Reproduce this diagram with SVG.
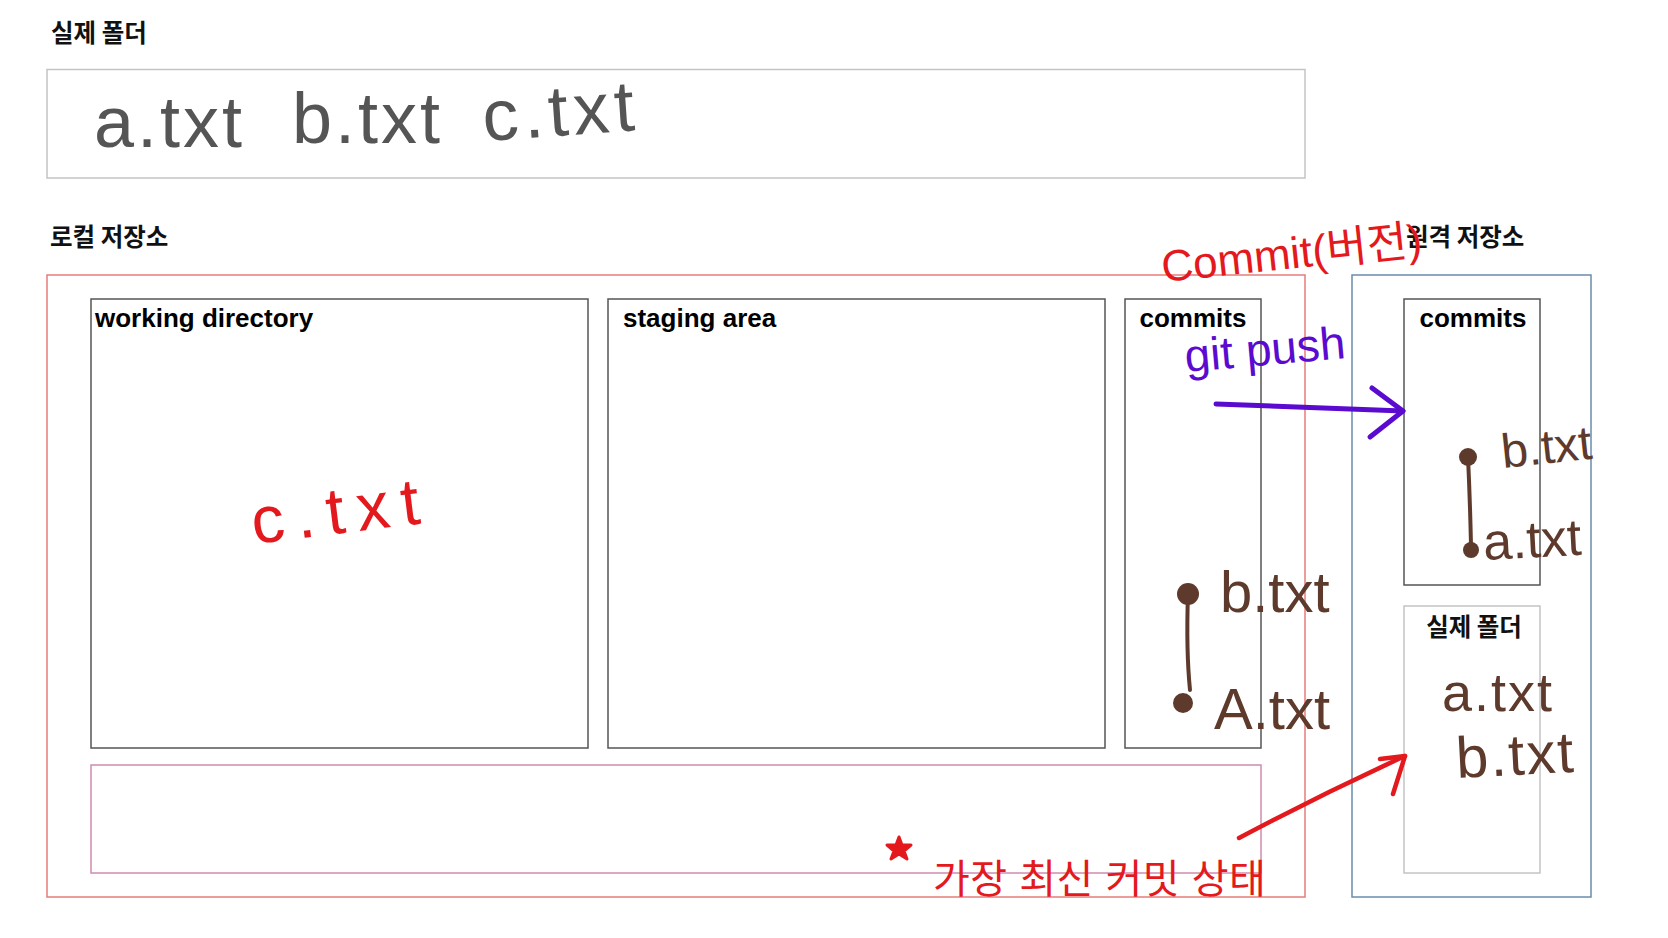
<svg xmlns="http://www.w3.org/2000/svg" width="1668" height="938" viewBox="0 0 1668 938">
<defs>
<style>
.title{font-family:"Noto Sans CJK KR","Noto Sans",sans-serif;font-size:24.5px;font-weight:700;fill:#111}
.hdr{font-family:"Liberation Sans",Arial,sans-serif;font-size:26px;font-weight:700;fill:#000}
.box{fill:#fff;stroke:#555;stroke-width:1.5}
.hand{font-family:"Liberation Sans","Noto Sans CJK KR",sans-serif}
.gray{fill:#555}
.red{fill:#e3191d}
.purple{fill:#5a0bcf}
.brown{fill:#5e3a2c}
</style>
</defs>
<rect width="1668" height="938" fill="#fff"/>

<g id="real-folder">
<text class="title" x="51" y="42">실제 폴더</text>
<rect x="47" y="69.5" width="1258" height="108.5" fill="#fff" stroke="#c4c4c4" stroke-width="1.5"/>
<text class="hand gray" x="94" y="147" font-size="72" letter-spacing="3">a.txt</text>
<text class="hand gray" x="292" y="143" font-size="72" letter-spacing="3">b.txt</text>
<text class="hand gray" x="484" y="141" font-size="72" letter-spacing="5" transform="rotate(-4 484 141)">c.txt</text>
</g>

<g id="local-repo">
<text class="title" x="50" y="246">로컬 저장소</text>
<rect x="47" y="275" width="1258" height="622" fill="none" stroke="#e77b7b" stroke-width="1.5"/>
</g>

<g id="working-directory">
<rect class="box" x="91" y="299" width="497" height="449"/>
<text class="hdr" x="95" y="327">working directory</text>
<text class="hand red" x="254" y="544" font-size="66" letter-spacing="12" transform="rotate(-7 254 544)">c.txt</text>
</g>

<g id="staging-area">
<rect class="box" x="608" y="299" width="497" height="449"/>
<text class="hdr" x="623" y="327">staging area</text>
</g>

<g id="local-commits">
<rect class="box" x="1125" y="299" width="136" height="449"/>
<text class="hdr" x="1193" y="327" text-anchor="middle">commits</text>
</g>

<g id="latest-commit-state">
<rect x="91" y="765" width="1170" height="108" fill="none" stroke="#d08cb0" stroke-width="1.5"/>
</g>

<g id="remote-repo">
<text class="title" x="1406" y="246">원격 저장소</text>
<rect x="1352" y="275" width="239" height="622" fill="none" stroke="#6a8cae" stroke-width="1.5"/>
</g>

<g id="remote-commits">
<rect class="box" x="1404" y="299" width="136" height="286"/>
<text class="hdr" x="1473" y="327" text-anchor="middle">commits</text>
</g>

<g id="remote-folder">
<rect x="1404" y="606" width="136" height="267" fill="#fff" stroke="#c4c4c4" stroke-width="1.5"/>
<text class="title" x="1474" y="636" text-anchor="middle">실제 폴더</text>
<text class="hand brown" x="1442" y="711" font-size="54" letter-spacing="2">a.txt</text>
<text class="hand brown" x="1457" y="778" font-size="58" letter-spacing="2" transform="rotate(-3 1457 778)">b.txt</text>
</g>

<g id="annotations">
<text class="hand red" x="1163" y="282" font-size="44" transform="rotate(-6 1163 282)">Commit(버전)</text>
<text class="hand purple" x="1186" y="372" font-size="46" transform="rotate(-5 1186 372)">git push</text>
<text class="hand brown" x="1220" y="612" font-size="58">b.txt</text>
<text class="hand brown" x="1214" y="729" font-size="58">A.txt</text>
<text class="hand brown" x="1503" y="468" font-size="48" transform="rotate(-6 1503 468)">b.txt</text>
<text class="hand brown" x="1484" y="560" font-size="52" transform="rotate(-3 1484 560)">a.txt</text>
<g fill="#5e3a2c">
<circle cx="1188" cy="594" r="11"/>
<circle cx="1183" cy="703" r="10"/>
<circle cx="1468" cy="457" r="9"/>
<circle cx="1471" cy="550" r="8"/>
</g>
<path d="M899,837 L902,845 L911,845 L904,851 L907,859 L899,854 L891,859 L894,851 L887,845 L896,845 Z" fill="#e3191d" stroke="#e3191d" stroke-width="3" stroke-linejoin="round"/>
<text class="hand red" x="933" y="893" font-size="40" letter-spacing="0.5">가장 최신 커밋 상태</text>
</g>

<g id="connectors" fill="none" stroke-linecap="round" stroke-linejoin="round">
<path d="M1188,594 Q1186,650 1190,690" stroke="#5e3a2c" stroke-width="4"/>
<path d="M1468,457 Q1470,500 1471,545" stroke="#5e3a2c" stroke-width="4"/>
<path d="M1216,404 L1403,411" stroke="#5a0bcf" stroke-width="5"/>
<path d="M1372,388 L1403,411 L1370,437" stroke="#5a0bcf" stroke-width="5"/>
<path d="M1239,838 Q1320,795 1405,756" stroke="#e3191d" stroke-width="4.5"/>
<path d="M1380,759 L1405,756 L1393,794" stroke="#e3191d" stroke-width="4.5"/>
</g>
</svg>
